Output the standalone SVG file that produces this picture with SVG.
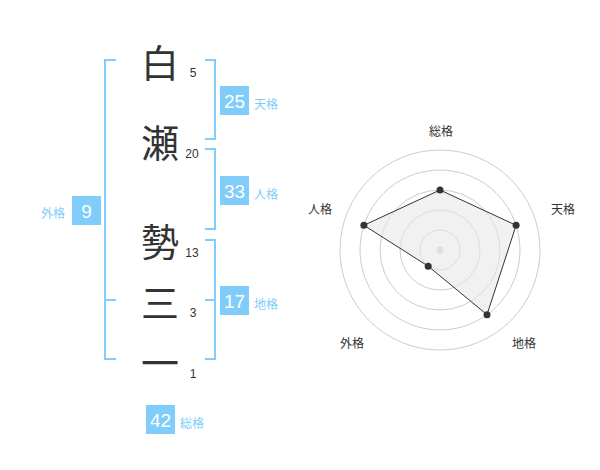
<svg xmlns="http://www.w3.org/2000/svg" width="600" height="470" viewBox="0 0 600 470">
<style>
.kanji{font-family:"Noto Sans CJK JP","Noto Sans CJK SC",sans-serif;font-size:38px;fill:#333;text-anchor:middle;dominant-baseline:central}
.num{font-family:"Liberation Sans",Arial,sans-serif;font-size:12px;fill:#333;text-anchor:middle}
.br{fill:none;stroke:#80ccfa;stroke-width:2}
.box{fill:#80ccfa}
.bnum{font-family:"Liberation Sans",Arial,sans-serif;font-size:19px;fill:#fff;text-anchor:middle}
.lab{font-family:"Noto Sans CJK JP","Noto Sans CJK SC",sans-serif;font-size:12px;fill:#80ccfa}
.rlab{font-family:"Noto Sans CJK JP","Noto Sans CJK SC",sans-serif;font-size:12px;fill:#333;text-anchor:middle;dominant-baseline:central}
.ring{fill:none;stroke:#cccccc;stroke-width:1}
.dot{fill:#333}
</style>
<rect width="600" height="470" fill="#fff"/>
<g id="connectors">
<path class="br" d="M116,60 H105 V359 H116 M105,300 H116"/>
<path class="br" d="M205,60 H215 V139 H205"/>
<path class="br" d="M205,149 H215 V229 H205"/>
<path class="br" d="M205,240 H215 V359 H205 M205,300 H215"/>
</g>
<g id="char-shiro"><text class="kanji" x="160" y="60">白</text><text class="num" x="193" y="77">5</text></g>
<g id="char-se"><text class="kanji" x="160" y="140">瀬</text><text class="num" x="192" y="158">20</text></g>
<g id="char-sei"><text class="kanji" x="160" y="239">勢</text><text class="num" x="192" y="257">13</text></g>
<g id="char-san"><text class="kanji" x="160" y="300">三</text><text class="num" x="193" y="317">3</text></g>
<g id="char-ichi"><text class="kanji" x="160" y="360">一</text><text class="num" x="193" y="378">1</text></g>
<g id="tenkaku"><rect class="box" x="220" y="86" width="29" height="29"/><text class="bnum" x="234.5" y="107.5">25</text><text class="lab" x="254" y="109">天格</text></g>
<g id="jinkaku"><rect class="box" x="220" y="176" width="29" height="29"/><text class="bnum" x="234.5" y="197.5">33</text><text class="lab" x="254" y="199">人格</text></g>
<g id="gaikaku"><rect class="box" x="72" y="196" width="29" height="29"/><text class="bnum" x="86.5" y="217.5">9</text><text class="lab" x="41" y="218">外格</text></g>
<g id="chikaku"><rect class="box" x="220" y="286" width="29" height="29"/><text class="bnum" x="234.5" y="307.5">17</text><text class="lab" x="254" y="309">地格</text></g>
<g id="soukaku"><rect class="box" x="146" y="405" width="29" height="29"/><text class="bnum" x="160.5" y="426.5">42</text><text class="lab" x="180" y="428">総格</text></g>
<g id="radar">
<circle class="ring" cx="440" cy="250" r="20"/>
<circle class="ring" cx="440" cy="250" r="40"/>
<circle class="ring" cx="440" cy="250" r="60"/>
<circle class="ring" cx="440" cy="250" r="80"/>
<circle class="ring" cx="440" cy="250" r="100"/>
<circle cx="440" cy="250" r="3.5" fill="#cccccc"/>
<polygon points="440,190 516.1,225.3 487,314.7 428.2,266.2 363.9,225.3" fill="#e8e8e8" fill-opacity="0.6" stroke="#333" stroke-width="1"/>
<circle class="dot" cx="440" cy="190" r="3.5"/>
<circle class="dot" cx="516.1" cy="225.3" r="3.5"/>
<circle class="dot" cx="487" cy="314.7" r="3.5"/>
<circle class="dot" cx="428.2" cy="266.2" r="3.5"/>
<circle class="dot" cx="363.9" cy="225.3" r="3.5"/>
<text class="rlab" x="441" y="130">総格</text>
<text class="rlab" x="563" y="208">天格</text>
<text class="rlab" x="524" y="342">地格</text>
<text class="rlab" x="352" y="342">外格</text>
<text class="rlab" x="320" y="208">人格</text>
</g>
</svg>
